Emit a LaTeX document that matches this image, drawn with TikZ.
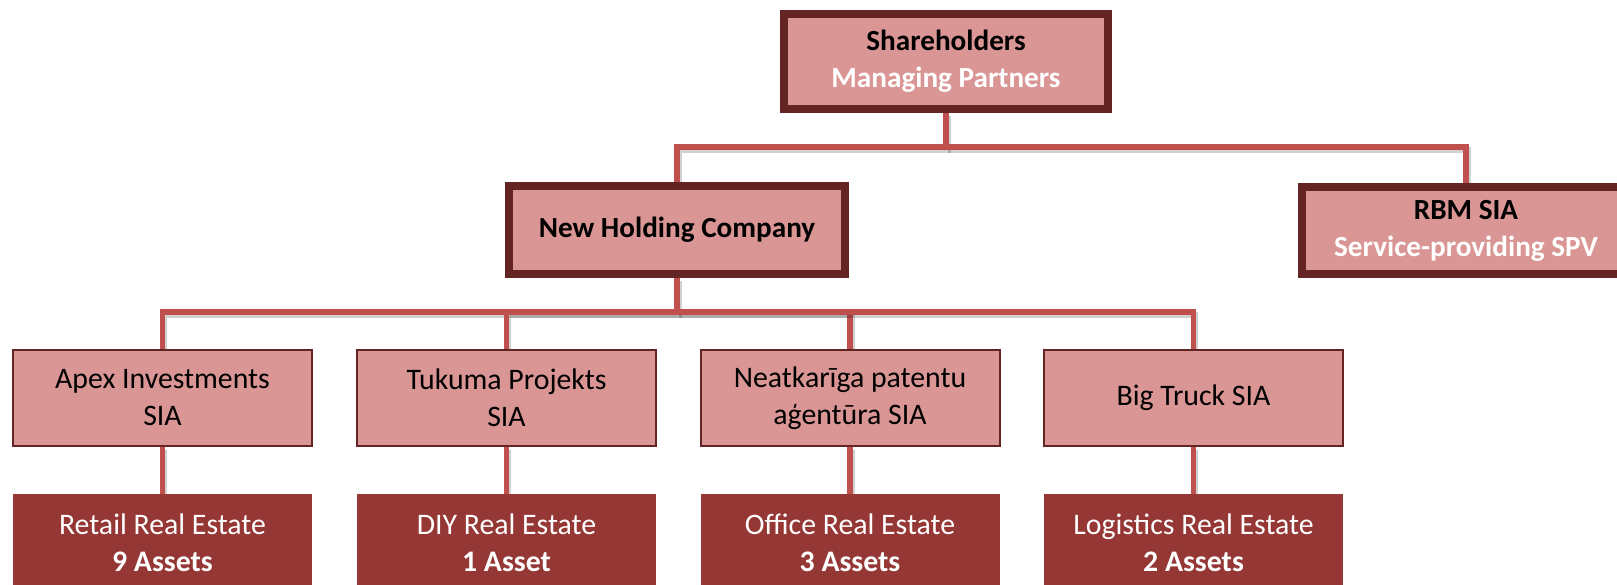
\documentclass[tikz,border=0pt]{standalone}
\usepackage{fontspec}
\setmainfont{Carlito}
\usetikzlibrary{calc,backgrounds}

\definecolor{boxpink}{HTML}{D99694}
\definecolor{boxdark}{HTML}{632523}
\definecolor{assetred}{HTML}{953735}
\definecolor{linkred}{HTML}{C0504D}

\tikzset{
  topbox/.style={draw=boxdark, line width=4pt, fill=boxpink, align=center,
    inner sep=0pt, font=\fontsize{14.6}{18.5}\selectfont\bfseries},
  firmbox/.style={draw=boxdark, line width=1pt, fill=boxpink, align=center,
    inner sep=0pt, minimum width=149.5pt, minimum height=48pt,
    font=\fontsize{14.9}{18.5}\selectfont},
  assetbox/.style={fill=assetred, text=white, align=center, inner sep=0pt,
    minimum width=149.5pt, minimum height=49pt,
    font=\fontsize{14.9}{18.5}\selectfont},
  link/.style={draw=linkred, line width=2.75pt,
    preaction={draw=black, opacity=0.18, line width=2.75pt,
      transform canvas={shift={(1pt,-1.5pt)}}}}
}

\begin{document}
\begin{tikzpicture}[x=0.5pt, y=-0.5pt]

 \clip (0,0) rectangle (1617,584);

 % bus heights
 \coordinate (topbus) at (0,147);
 \coordinate (lowbus) at (0,312);

 % top level
 \node[topbox, minimum width=162pt, minimum height=47.5pt] (share) at (946,61.5)
   {Shareholders\\{\color{white}Managing Partners}};

 \node[topbox, minimum width=168pt, minimum height=44pt] (holding) at (677,230)
   {New Holding Company};
 \node[topbox, minimum width=164pt, minimum height=43.5pt] (rbm) at (1466,230.5)
   {RBM SIA\\{\color{white}Service-providing SPV}};

 % companies
 \node[firmbox] (apex) at (162.5,398) {Apex Investments\\SIA};
 \node[firmbox] (tukuma) at (506.5,398) {Tukuma Projekts\\SIA};
 \node[firmbox] (neat) at (850,398) {Neatkarīga patentu\\aģentūra SIA};
 \node[firmbox] (truck) at (1193.5,398) {Big Truck SIA};

 % assets
 \node[assetbox] (retail) at (162.5,543) {Retail Real Estate\\\textbf{9 Assets}};
 \node[assetbox] (diy) at (506.5,543) {DIY Real Estate\\\textbf{1 Asset}};
 \node[assetbox] (office) at (850,543) {Office Real Estate\\\textbf{3 Assets}};
 \node[assetbox] (logist) at (1193.5,543) {Logistics Real Estate\\\textbf{2 Assets}};

 % connectors go under the boxes
 \begin{scope}[on background layer]
  \fill[white] (0,0) rectangle (1617,584);
  \draw[link] (share.south) -- (share.south |- topbus) -| (holding.north);
  \draw[link] (share.south |- topbus) -| (rbm.north);
  \draw[link] (holding.south) -- (holding.south |- lowbus) -| (apex.north);
  \draw[link] (holding.south |- lowbus) -| (tukuma.north);
  \draw[link] (holding.south |- lowbus) -| (neat.north);
  \draw[link] (holding.south |- lowbus) -| (truck.north);
  \draw[link] (apex) -- (retail);
  \draw[link] (tukuma) -- (diy);
  \draw[link] (neat) -- (office);
  \draw[link] (truck) -- (logist);
 \end{scope}

\end{tikzpicture}
\end{document}
